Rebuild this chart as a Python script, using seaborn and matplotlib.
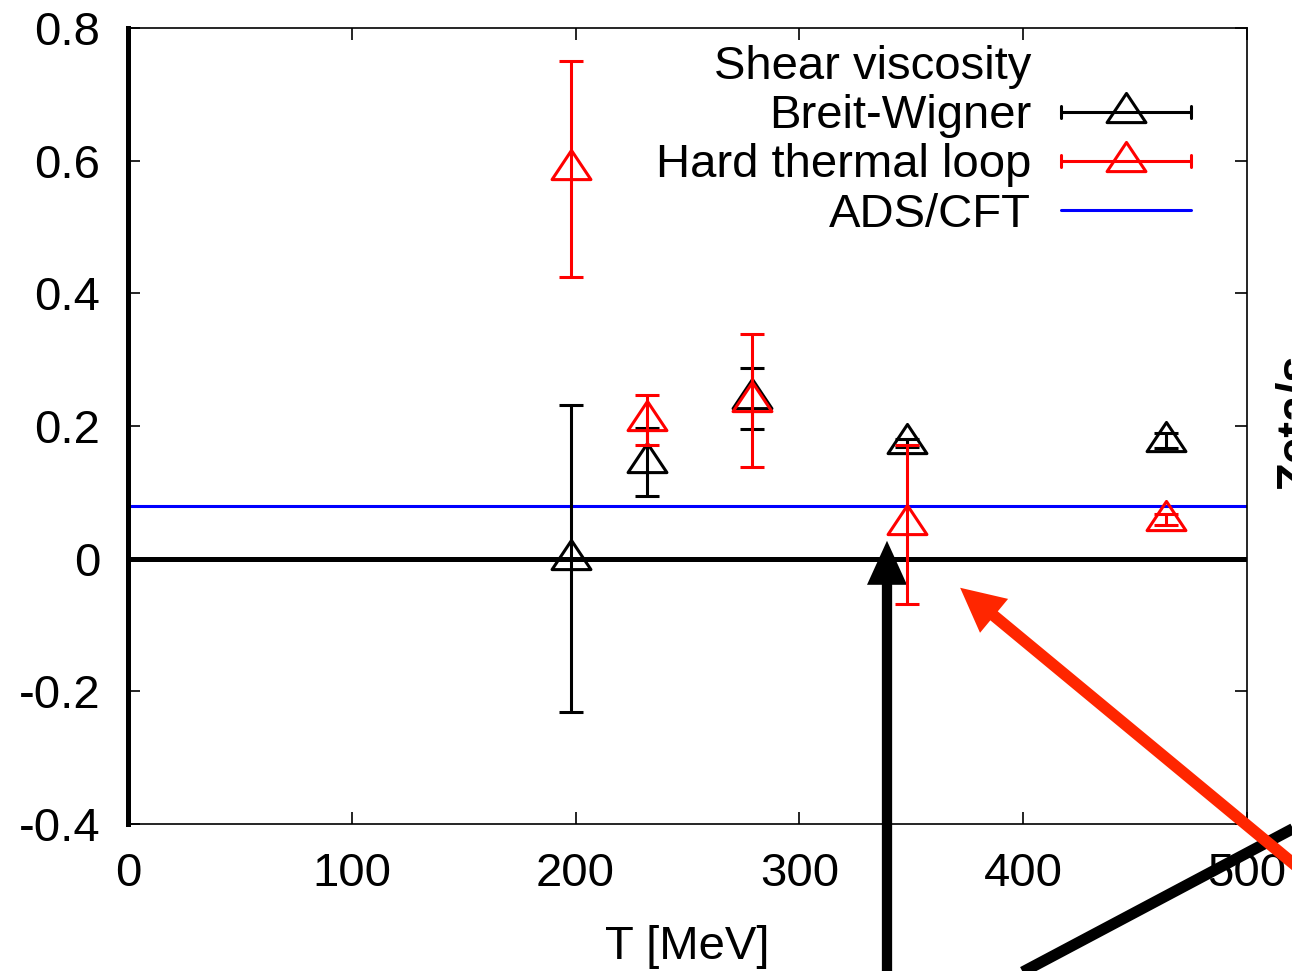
import numpy as np
import matplotlib
matplotlib.use("Agg")
import matplotlib.pyplot as plt
import seaborn as sns
import pandas as pd
from matplotlib.lines import Line2D
from matplotlib.patches import FancyArrowPatch, ArrowStyle
from matplotlib.legend_handler import HandlerBase
from matplotlib.path import Path

# ---------------- data ----------------
T_bw = [198, 232, 279, 348, 464]
eta_bw = [0.0, 0.146, 0.242, 0.175, 0.178]
err_bw = [0.231, 0.051, 0.046, 0.006, 0.011]

T_htl = [198, 232, 279, 348, 464]
eta_htl = [0.588, 0.209, 0.238, 0.052, 0.059]
err_htl = [0.163, 0.038, 0.100, 0.120, 0.008]

ads_cft = 1.0 / (4.0 * np.pi)

xticks = [0, 100, 200, 300, 400, 500]
xtick_labels = ["0", "100", "200", "300", "400", "500"]
yticks = [-0.4, -0.2, 0.0, 0.2, 0.4, 0.6, 0.8]
ytick_labels = ["-0.4", "-0.2", "0", "0.2", "0.4", "0.6", "0.8"]

legend_title = "Shear viscosity"
series_labels = ["Breit-Wigner", "Hard thermal loop", "ADS/CFT"]
xlabel = "T [MeV]"
side_label = "Zeta/s"

# ---------------- style ----------------
sns.set_theme(style="ticks")
plt.rcParams["font.family"] = ["Liberation Sans", "DejaVu Sans"]
FS = 34

W, H = 1292, 971
fig = plt.figure(figsize=(W / 100, H / 100), dpi=100)
ax = fig.add_axes([128 / W, 147 / H, 1119 / W, 796 / H])

RED = "#ff0000"
BLUE = "#0000ff"
ARROW_RED = "#ff2600"
LW = 2.2
MS = 28

tri = Path([(-1, -0.52), (1, -0.52), (0, 0.98), (-1, -0.52)],
           [Path.MOVETO, Path.LINETO, Path.LINETO, Path.CLOSEPOLY])

# reference lines
ax.axhline(0.0, color="black", lw=3.6, zorder=1.5)
ax.axhline(ads_cft, color=BLUE, lw=LW, zorder=2)

# Breit-Wigner
ax.errorbar(T_bw, eta_bw, yerr=err_bw, fmt="none", ecolor="black",
            elinewidth=LW, capsize=8.6, capthick=LW, zorder=3)
sns.lineplot(data=pd.DataFrame({"T": T_bw, "eta": eta_bw}), x="T", y="eta",
             ax=ax, color="black", marker=tri, markersize=MS,
             markerfacecolor="none", markeredgecolor="black",
             markeredgewidth=LW, linestyle="", legend=False, zorder=3,
             errorbar=None, sort=False)

# Hard thermal loop
ax.errorbar(T_htl, eta_htl, yerr=err_htl, fmt="none", ecolor=RED,
            elinewidth=LW, capsize=8.6, capthick=LW, zorder=3.1)
sns.lineplot(data=pd.DataFrame({"T": T_htl, "eta": eta_htl}), x="T", y="eta",
             ax=ax, color=RED, marker=tri, markersize=MS,
             markerfacecolor="none", markeredgecolor=RED,
             markeredgewidth=LW, linestyle="", legend=False, zorder=3.1,
             errorbar=None, sort=False)

ax.set_xlim(0, 500)
ax.set_ylim(-0.4, 0.8)
ax.set_xticks(xticks)
ax.set_xticklabels(xtick_labels)
ax.set_yticks(yticks)
ax.set_yticklabels(ytick_labels)
ax.set_xlabel(xlabel, fontsize=FS, labelpad=21, color="black")
ax.set_ylabel("")

for side in ["top", "right", "bottom"]:
    ax.spines[side].set_linewidth(1.2)
    ax.spines[side].set_color("black")
ax.spines["left"].set_linewidth(3.6)
ax.spines["left"].set_color("black")
ax.tick_params(direction="in", length=8.6, width=1.2, top=True, right=True,
               labelsize=FS, colors="black", pad=20)


# ---------------- legend ----------------
class HandlerErr(HandlerBase):
    def __init__(self, color):
        super().__init__()
        self.color = color

    def create_artists(self, legend, orig_handle, xdescent, ydescent,
                       width, height, fontsize, trans):
        x0 = -xdescent
        x1 = -xdescent + width
        y = (height - ydescent) / 2.0
        c = 4.3
        arts = [
            Line2D([x0, x1], [y, y], color=self.color, lw=LW),
            Line2D([x0, x0], [y - c, y + c], color=self.color, lw=LW),
            Line2D([x1, x1], [y - c, y + c], color=self.color, lw=LW),
            Line2D([(x0 + x1) / 2], [y], ls="", marker=tri, ms=MS,
                   mfc="none", mec=self.color, mew=LW),
        ]
        for a in arts:
            a.set_transform(trans)
        return arts


h_title = Line2D([], [], color="none")
h_bw = Line2D([], [], color="black")
h_htl = Line2D([], [], color=RED)
h_ads = Line2D([], [], color=BLUE, lw=LW)
leg = ax.legend([h_title, h_bw, h_htl, h_ads], [legend_title] + series_labels,
                loc="upper right", bbox_to_anchor=(1191 / W, 1 - 45 / H),
                bbox_transform=fig.transFigure, frameon=False,
                markerfirst=False, handlelength=2.75, handletextpad=0.64,
                labelspacing=0.11, borderpad=0, borderaxespad=0, fontsize=FS,
                handler_map={h_bw: HandlerErr("black"),
                             h_htl: HandlerErr(RED)})
for t in leg.get_texts():
    t.set_color("black")

# ---------------- slide overlays ----------------
# black vertical arrow (under the red error bars)
black_arrow = FancyArrowPatch(
    (887 / W, 1 - 1000 / H), (887 / W, 1 - 538 / H),
    transform=fig.transFigure,
    arrowstyle=ArrowStyle("Simple", head_length=31.7, head_width=28.8,
                          tail_width=7.4),
    mutation_scale=1, color="black", lw=0, zorder=2.6)
ax.add_artist(black_arrow)
black_arrow.set_clip_on(False)

# black diagonal line
fig.add_artist(Line2D([985 / W, 1330 / W], [1 - 992 / H, 1 - 809 / H],
                      transform=fig.transFigure, color="black", lw=8,
                      solid_capstyle="butt", zorder=3))

# red arrow
red_arrow = FancyArrowPatch(
    (1330 / W, 1 - 894 / H), (958 / W, 1 - 586 / H),
    transform=fig.transFigure,
    arrowstyle=ArrowStyle("Simple", head_length=31.7, head_width=31.7,
                          tail_width=8.4),
    mutation_scale=1, color=ARROW_RED, lw=0, zorder=4)
fig.add_artist(red_arrow)

# rotated label at the right edge, cut off by the figure border as in the slide
fig.text(1274 / W, 1 - 490 / H, side_label, rotation=90, ha="left",
         va="bottom", fontsize=FS, fontweight="bold", color="black")

fig.savefig("out.png", dpi=100)
